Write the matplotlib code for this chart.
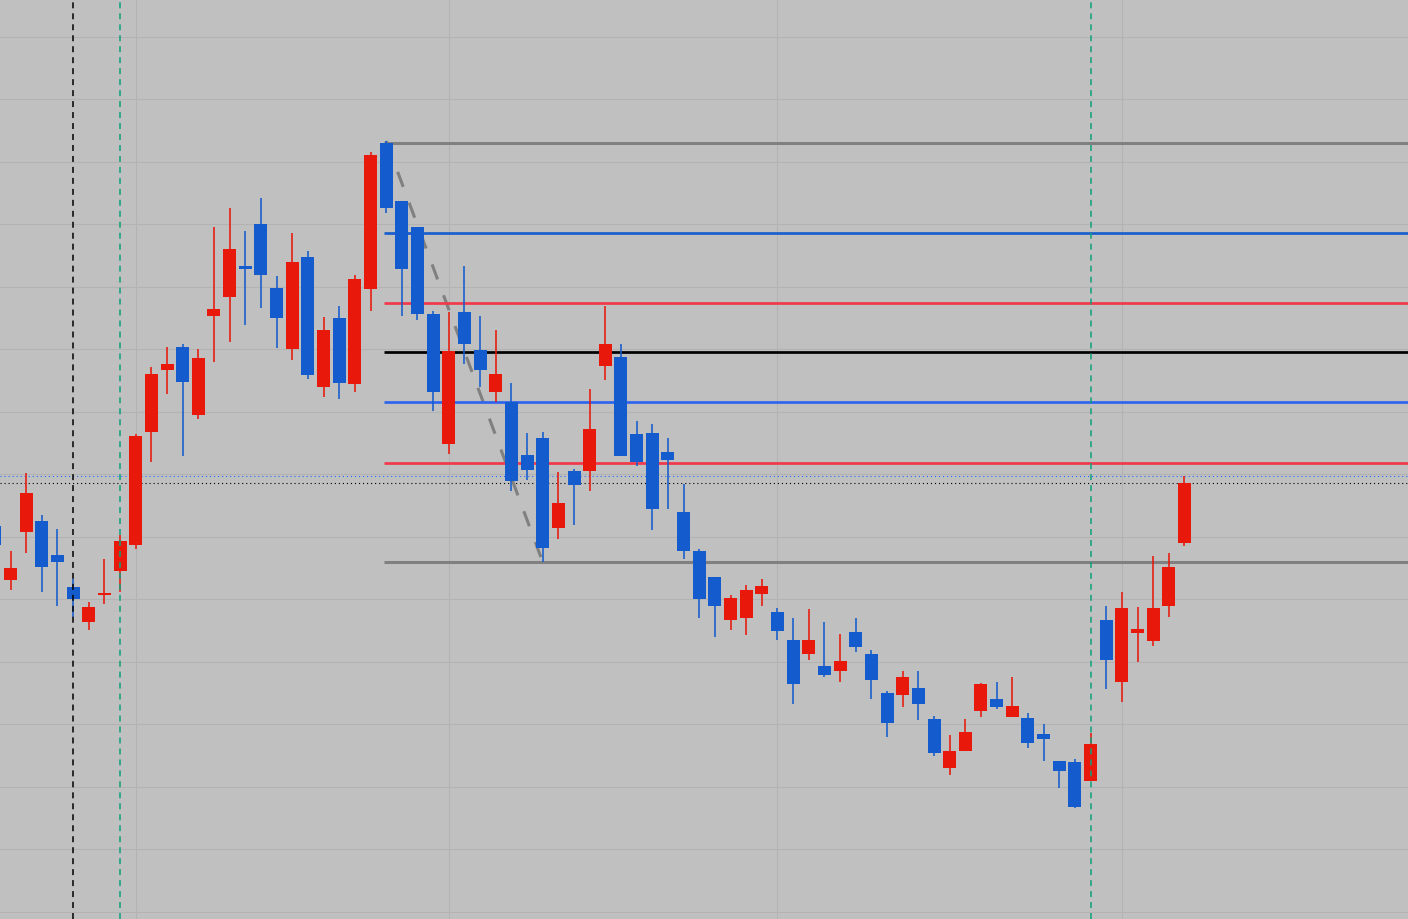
import numpy as np
import matplotlib.pyplot as plt

plt.rcParams['lines.scale_dashes'] = False

# daily bars, first one is cut off at the left edge
opens  = [1074, 1020, 1068, 1079, 1045, 1013, 978, 1005, 1029, 1055,
          1168, 1230, 1253, 1185, 1284, 1303, 1334, 1376, 1312, 1251,
          1343, 1213, 1282, 1216, 1311, 1457, 1399, 1373, 1286, 1156,
          1288, 1250, 1208, 1198, 1145, 1162, 1072, 1129, 1129, 1234,
          1243, 1166, 1167, 1148, 1088, 1049, 1023, 980, 982, 1006,
          988, 960, 946, 934, 929, 968, 946, 907, 905, 912,
          881, 832, 849, 889, 901, 883, 882, 866, 839, 838,
          819, 980, 918, 967, 959, 994, 1057]
highs  = [1080, 1049, 1127, 1085, 1071, 1021, 998, 1041, 1065, 1166,
          1233, 1253, 1256, 1251, 1373, 1392, 1369, 1402, 1324, 1367,
          1349, 1283, 1294, 1325, 1448, 1459, 1399, 1373, 1289, 1288,
          1334, 1284, 1270, 1217, 1167, 1168, 1128, 1131, 1211, 1294,
          1256, 1179, 1176, 1162, 1116, 1051, 1023, 1005, 1015, 1021,
          992, 982, 991, 978, 966, 982, 950, 909, 929, 929,
          884, 865, 881, 917, 918, 923, 887, 876, 839, 841,
          867, 994, 1008, 993, 1044, 1047, 1124]
lows   = [1048, 1010, 1047, 1008, 994, 983, 970, 996, 1008, 1051,
          1138, 1206, 1144, 1181, 1238, 1258, 1275, 1292, 1252, 1240,
          1221, 1203, 1201, 1208, 1289, 1387, 1284, 1280, 1189, 1146,
          1236, 1213, 1198, 1109, 1120, 1038, 1061, 1075, 1109, 1220,
          1144, 1134, 1070, 1091, 1041, 982, 963, 970, 965, 994,
          960, 896, 940, 923, 918, 948, 901, 863, 893, 880,
          844, 825, 849, 883, 891, 883, 852, 839, 812, 792,
          819, 911, 898, 938, 954, 983, 1054]
closes = [1055, 1032, 1107, 1033, 1038, 1001, 993, 1007, 1059, 1164,
          1226, 1236, 1218, 1242, 1291, 1351, 1331, 1325, 1282, 1338,
          1225, 1270, 1217, 1321, 1445, 1392, 1331, 1286, 1208, 1249,
          1256, 1230, 1226, 1119, 1130, 1052, 1097, 1115, 1171, 1256,
          1144, 1138, 1091, 1140, 1049, 1001, 994, 1002, 1010, 1014,
          969, 916, 960, 925, 939, 953, 920, 877, 923, 896,
          847, 849, 868, 916, 893, 894, 857, 861, 829, 793,
          856, 940, 992, 971, 992, 1033, 1117]

# fibo drawn from the swing high (bar 24) to the swing low (bar 34)
swing_hi, swing_lo = 24, 34
fib_levels = [1456.7, 1366.7, 1296.7, 1247.7, 1197.7, 1136.7, 1037.7]
fib_colors = ['#808080', '#1a5ecc', '#f2384a', '#000000', '#2e64ee', '#f2384a', '#808080']
fib_widths = [2.2, 1.95, 1.95, 1.95, 1.95, 1.95, 2.2]

ask_price = 1123.7
bid_price = 1116.7
period_sep = [4]          # black separator
session_marks = [7, 69]   # green markers
grid_bars = [8, 28, 49, 71]

BG = '#c0c0c0'
GRID = '#b3b3b3'
RED = '#e8190b'
BLUE = '#145ccd'

x = np.arange(len(opens)) - 1
o, h, l, c = map(np.array, (opens, highs, lows, closes))
cols = np.where(c >= o, RED, BLUE)

fig = plt.figure(figsize=(14.08, 9.19), dpi=100, facecolor=BG)
ax = fig.add_axes([0, 0, 1, 1], facecolor=BG)
xmin, xmax = -0.671, 89.28
ax.set_xlim(xmin, xmax)
ax.set_ylim(681, 1600)

ax.set_xticks(grid_bars)
ax.set_yticks(np.arange(1001 - 62.5 * 5, 1600, 62.5))
ax.grid(True, color=GRID, lw=0.8)
ax.set_axisbelow(True)
ax.tick_params(length=0, labelbottom=False, labelleft=False)
for s in ax.spines.values():
    s.set_visible(False)

# price lines
ax.axhline(ask_price, color='#2070ff', lw=0.8, ls=(0, (0.8, 2.1)), zorder=1)
ax.axhline(bid_price, color='#000000', lw=0.8, ls=(0, (0.8, 2.1)), zorder=1)

# trend line high -> low
ax.plot([swing_hi, swing_lo], [h[x == swing_hi][0], l[x == swing_lo][0]],
        color='#808080', lw=2.2, ls=(0, (11.5, 12.2)), solid_capstyle='butt',
        dash_capstyle='butt', zorder=1.5)

ax.hlines(fib_levels, swing_hi - 0.12, xmax, colors=fib_colors, lw=fib_widths, zorder=2)

# candles
ax.vlines(x, l, h, colors=cols, lw=1.15, zorder=3)
body = np.maximum(np.abs(c - o), 1.2)
ax.bar(x, body, bottom=np.minimum(o, c), width=0.83, color=cols, lw=0, zorder=4)

for v in period_sep:
    ax.axvline(v, color='#000000', lw=1.1, ls=(0, (4.3, 3.6)), zorder=5)
for v in session_marks:
    ax.axvline(v, color='#0ea07c', lw=1.1, ls=(0, (4.3, 3.6)), zorder=5)

fig.savefig('out.png', dpi=100, facecolor=BG)
